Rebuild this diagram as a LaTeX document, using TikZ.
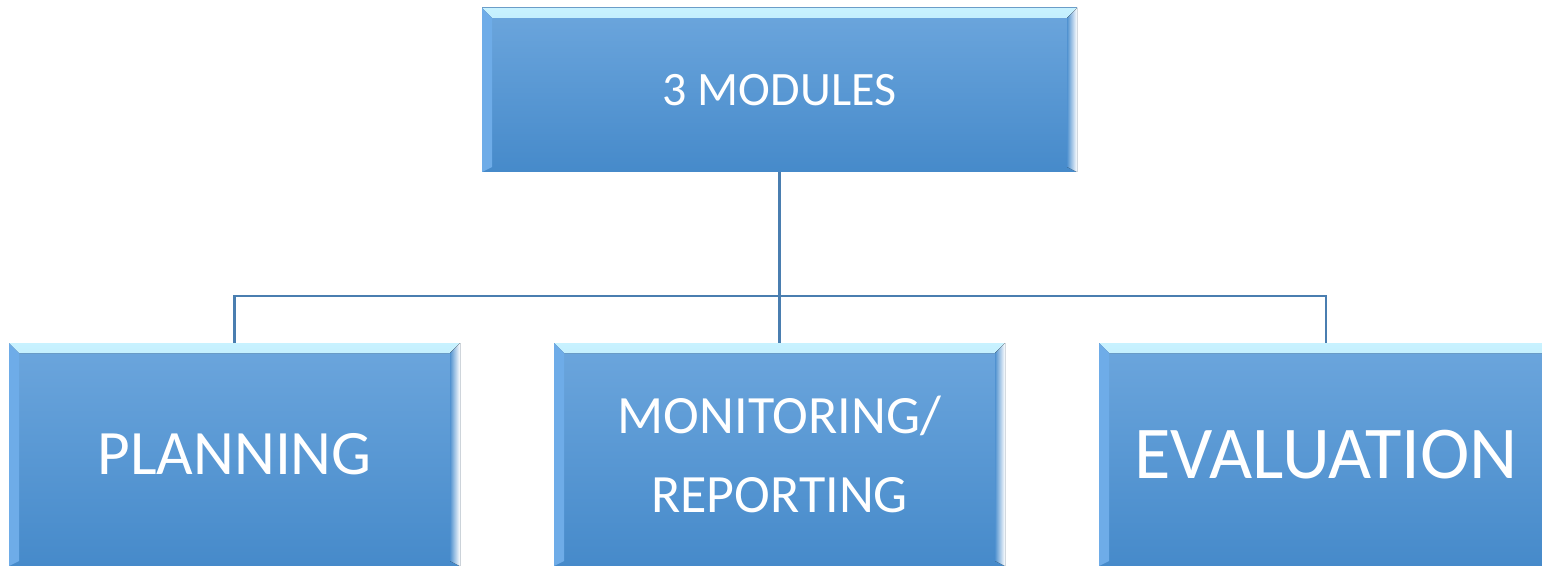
\documentclass[tikz,border=0pt]{standalone}
\usepackage{fontspec}
\setmainfont{Carlito}
\usepackage{tikz}
\usetikzlibrary{calc}

\definecolor{modtop}{RGB}{108,166,221}
\definecolor{modbot}{RGB}{70,138,202}
\definecolor{modlight}{RGB}{200,242,255}
\definecolor{modside}{RGB}{110,172,232}
\definecolor{linkblue}{RGB}{74,126,176}

\tikzset{
  modbox/.style={rectangle, inner sep=0pt, text=white, align=center,
    top color=modtop, bottom color=modbot,
    path picture={
      % bevel: top, left, right
      \fill[top color=modlight, bottom color=modtop!80!modlight]
        (path picture bounding box.north west) -- (path picture bounding box.north east)
        -- ($(path picture bounding box.north east)+(-0.2,-0.2)$)
        -- ($(path picture bounding box.north west)+(0.2,-0.2)$) -- cycle;
      \fill[modside]
        (path picture bounding box.north west) -- ($(path picture bounding box.north west)+(0.2,-0.2)$)
        -- ($(path picture bounding box.south west)+(0.2,0.1)$)
        -- (path picture bounding box.south west) -- cycle;
      \fill[left color=modbot!70!modtop, right color=white]
        (path picture bounding box.north east) -- ($(path picture bounding box.north east)+(-0.2,-0.2)$)
        -- ($(path picture bounding box.south east)+(-0.2,0.1)$)
        -- (path picture bounding box.south east) -- cycle;
    }},
  link/.style={draw=linkblue, line width=1.4pt}
}

\begin{document}
\begin{tikzpicture}
\useasboundingbox (0,0) rectangle (30.84,-11.32);
\node[modbox, minimum width=11.9cm, minimum height=3.28cm, font=\fontsize{27.3}{33}\selectfont]
  (top) at (15.59,-1.8) {3 MODULES};
\node[modbox, minimum width=9.02cm, minimum height=4.46cm, font=\fontsize{36}{43}\selectfont]
  (plan) at (4.69,-9.09) {PLANNING};
\node[modbox, minimum width=9.02cm, minimum height=4.46cm, font=\fontsize{30.7}{45}\selectfont]
  (mon) at (15.59,-9.09) {MONITORING/\\REPORTING};
\node[modbox, minimum width=9.08cm, minimum height=4.46cm, font=\fontsize{42.4}{51}\selectfont]
  (eval) at (26.52,-9.09) {EVALUATION};
% tree lines
\coordinate (bus) at (15.59,-5.92);
\draw[link] (top.south) -- (bus);
\draw[link] (plan.north) |- (bus) -| (eval.north);
\draw[link] (bus) -- (mon.north);
\end{tikzpicture}
\end{document}
